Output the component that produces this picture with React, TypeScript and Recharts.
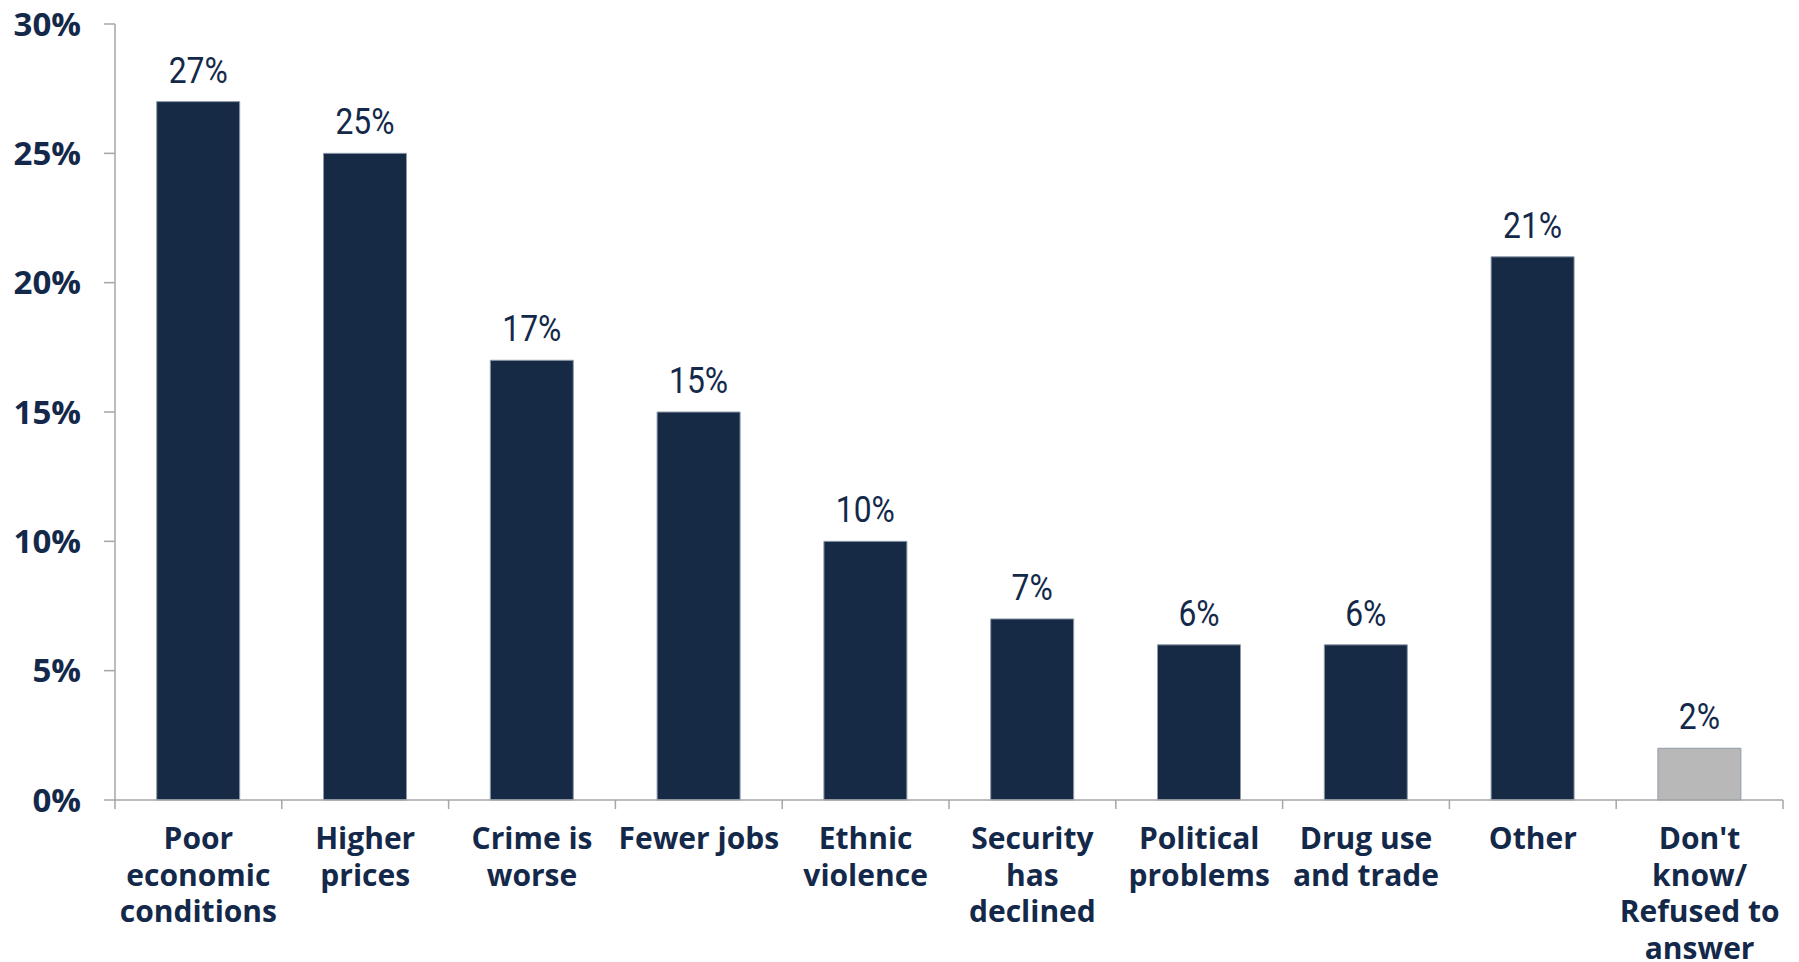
import { BarChart, Bar, XAxis, YAxis, LabelList } from 'recharts'

const categories = [
  'Poor\neconomic\nconditions',
  'Higher\nprices',
  'Crime is\nworse',
  'Fewer jobs',
  'Ethnic\nviolence',
  'Security\nhas\ndeclined',
  'Political\nproblems',
  'Drug use\nand trade',
  'Other',
  "Don't\nknow/\nRefused to\nanswer",
]
const shares = [27, 25, 17, 15, 10, 7, 6, 6, 21, 2]
const yTicks = [0, 5, 10, 15, 20, 25, 30]

const NAVY = '#162a45'
const GREY = '#b8b8b9'
const TEXT = '#14294a'
const AXIS = '#a6a6a8'

const chartData = categories.map((c, i) => ({
  label: c,
  value: shares[i],
  fill: i === categories.length - 1 ? GREY : NAVY,
}))

function CategoryTick(props: any) {
  const { x, y, payload, index, visibleTicksCount } = props
  const half = payload?.offset ?? 83.4
  const lines = String(payload.value).split('\n')
  return (
    <g>
      <line x1={x - half} x2={x - half} y1={y} y2={y + 9} stroke={AXIS} strokeWidth={1.5} />
      {index === visibleTicksCount - 1 && (
        <line x1={x + half} x2={x + half} y1={y} y2={y + 9} stroke={AXIS} strokeWidth={1.5} />
      )}
      {lines.map((ln, i) => (
        <text
          key={i}
          x={x}
          y={y + 49 + i * 36.5}
          textAnchor="middle"
          fill={TEXT}
          fontSize={30}
          fontWeight={700}
          fontFamily="'Open Sans', 'Noto Sans', sans-serif"
        >
          {ln}
        </text>
      ))}
    </g>
  )
}

// the original uses a condensed face, so squeeze Roboto a little
function ValueLabel(props: any) {
  const { x, y, width, value } = props
  return (
    <text
      transform={`translate(${x + width / 2},${y - 19}) scale(0.86,1)`}
      textAnchor="middle"
      fill={TEXT}
      fontSize={37}
      fontFamily="Roboto, sans-serif"
    >
      {value}%
    </text>
  )
}

export default function App() {
  return (
    <div style={{ position: 'absolute', left: 0, top: 0, width: 1799, height: 962, background: '#fff' }}>
      <BarChart
        width={1799}
        height={962}
        data={chartData}
        margin={{ top: 24, right: 16, bottom: 0, left: 0 }}
        barCategoryGap="25%"
      >
        <XAxis
          dataKey="label"
          interval={0}
          height={162}
          tickSize={0}
          tickMargin={0}
          tickLine={false}
          axisLine={{ stroke: AXIS, strokeWidth: 1.5 }}
          tick={<CategoryTick />}
        />
        <YAxis
          width={115}
          domain={[0, 30]}
          ticks={yTicks}
          interval={0}
          tickFormatter={(v: number) => `${v}%`}
          tickSize={11}
          tickMargin={23}
          axisLine={{ stroke: AXIS, strokeWidth: 1.5 }}
          tickLine={{ stroke: AXIS, strokeWidth: 1.5 }}
          tick={{ fill: TEXT, fontSize: 33, fontWeight: 700, fontFamily: "'Open Sans', 'Noto Sans', sans-serif" }}
        />
        <Bar dataKey="value" isAnimationActive={false} stroke="#8f9bab" strokeWidth={1}>
          <LabelList dataKey="value" content={<ValueLabel />} />
        </Bar>
      </BarChart>
    </div>
  )
}
